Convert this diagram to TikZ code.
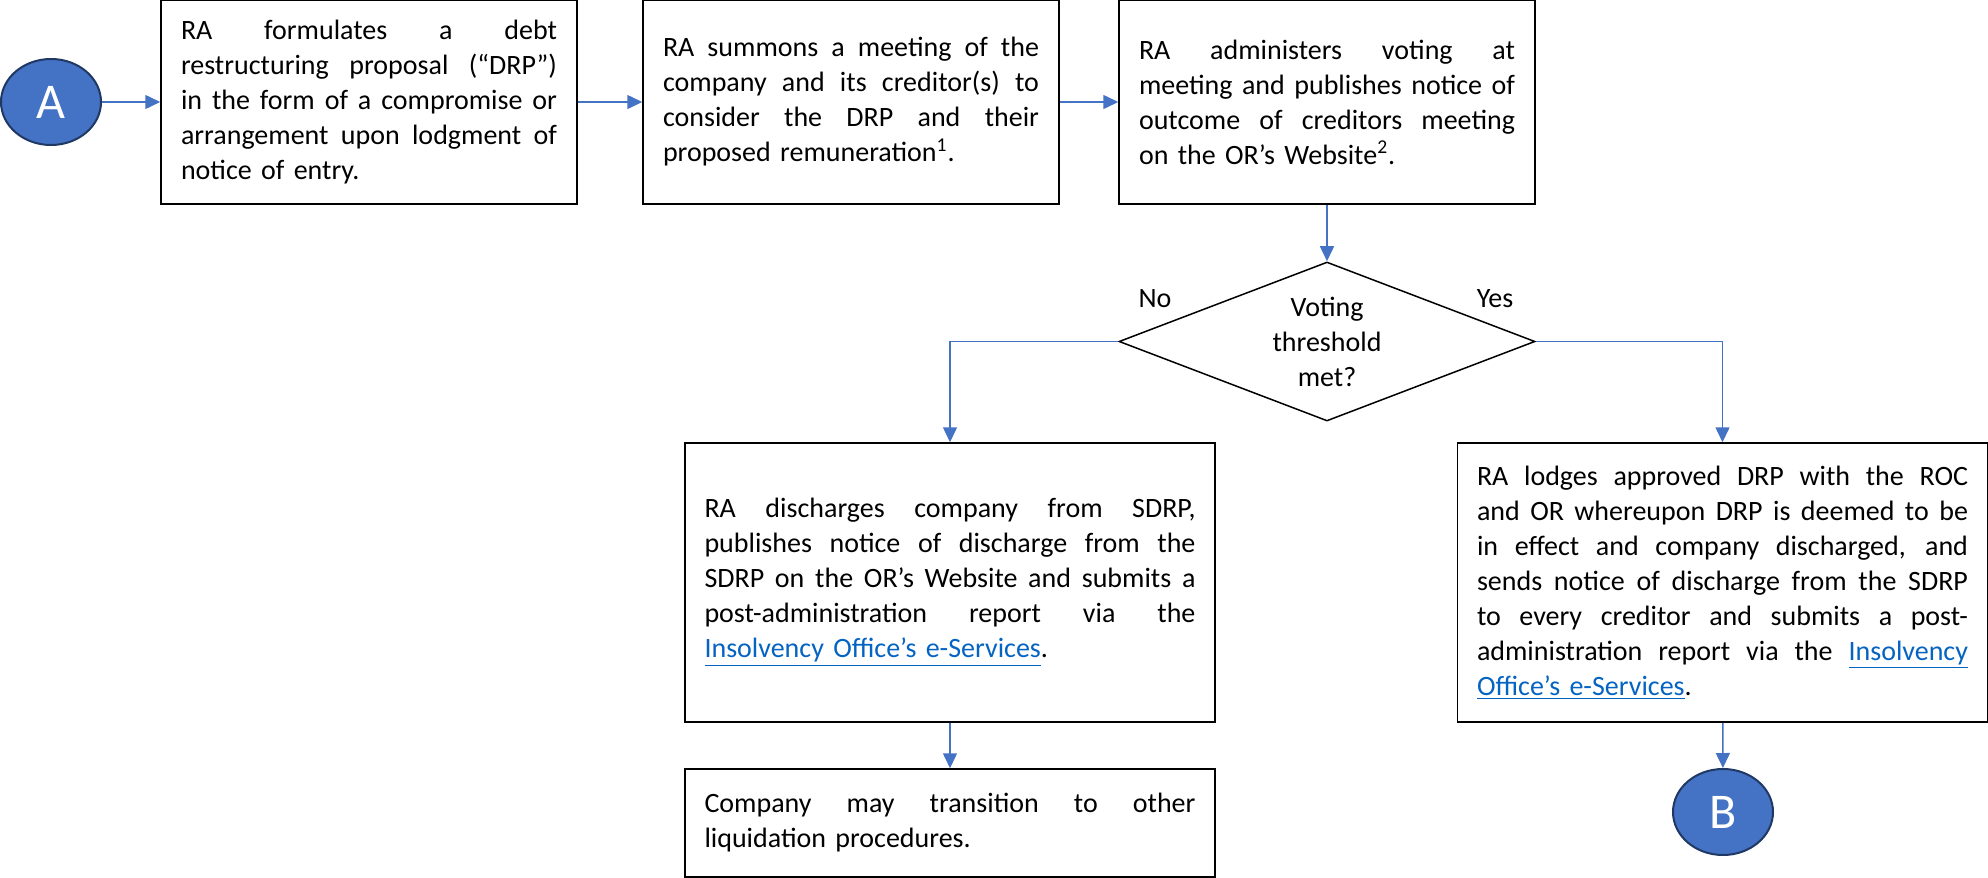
\documentclass[tikz,border=0pt]{standalone}
\usepackage{fontspec}
\setmainfont{Carlito}
\usetikzlibrary{arrows.meta,shapes.geometric}
\definecolor{arrblue}{HTML}{4472C4}
\definecolor{circborder}{HTML}{203864}
\definecolor{linkblue}{HTML}{0563C1}
\newcommand{\jline}[2]{\leavevmode\hbox to #1{\spaceskip=\fontdimen2\font plus 1fil minus 0.35\fontdimen2\font\relax #2}\\}
\newcommand{\lnk}[1]{\textcolor{linkblue}{\underline{#1}}}
\begin{document}
\begin{tikzpicture}[x=0.5pt,y=-0.5pt,
  font=\fontsize{14pt}{17.5pt}\selectfont,
  stepbox/.style={draw=black, line width=0.75pt, inner xsep=10pt, inner ysep=0pt, align=left},
  arr/.style={draw=arrblue, line width=0.75pt, -{Triangle[length=7.5pt,width=7pt]}},
  circ/.style={ellipse, fill=arrblue, draw=circborder, line width=1pt, minimum width=50pt, minimum height=43pt, inner sep=0pt, text=white, font=\fontsize{25pt}{30pt}\selectfont},
  lbl/.style={inner sep=0pt}
]
\useasboundingbox (0,0) rectangle (1988,878);

\node[circ] (A) at (51,102) {A};

\node[stepbox, text width=188pt, minimum height=102pt] (b1) at (369,102) {%
\jline{188pt}{RA formulates a debt}%
\jline{188pt}{restructuring proposal (“DRP”)}%
\jline{188pt}{in the form of a compromise or}%
\jline{188pt}{arrangement upon lodgment of}%
notice of entry.};

\node[stepbox, text width=188pt, minimum height=102pt] (b2) at (851,102) {%
\jline{188pt}{RA summons a meeting of the}%
\jline{188pt}{company and its creditor(s) to}%
\jline{188pt}{consider the DRP and their}%
proposed remuneration\textsuperscript{1}.};

\node[stepbox, text width=188pt, minimum height=102pt] (b3) at (1327,102) {%
\jline{188pt}{RA administers voting at}%
\jline{188pt}{meeting and publishes notice of}%
\jline{188pt}{outcome of creditors meeting}%
on the OR’s Website\textsuperscript{2}.};

\node[diamond, draw=black, line width=0.75pt, aspect=2.6, minimum width=208pt, minimum height=79.5pt, inner sep=0pt, align=center] (dia) at (1327,341.5) {Voting\\threshold\\met?};

\node[lbl] (no) at (1155,299) {No};
\node[lbl] (yes) at (1495,299) {Yes};

\node[stepbox, inner xsep=9.75pt, text width=245.5pt, minimum height=139.5pt] (b4) at (950,582.5) {%
\jline{245.5pt}{RA discharges company from SDRP,}%
\jline{245.5pt}{publishes notice of discharge from the}%
\jline{245.5pt}{SDRP on the OR’s Website and submits a}%
\jline{245.5pt}{post-administration report via the}%
\lnk{Insolvency Office’s e-Services}.};

\node[stepbox, inner xsep=9.75pt, text width=245.5pt, minimum height=54pt] (b5) at (950,823) {%
\jline{245.5pt}{Company may transition to other}%
liquidation procedures.};

\node[stepbox, inner xsep=9.75pt, text width=245.5pt, minimum height=139.5pt] (b6) at (1722.5,582.5) {%
\jline{245.5pt}{RA lodges approved DRP with the ROC}%
\jline{245.5pt}{and OR whereupon DRP is deemed to be}%
\jline{245.5pt}{in effect and company discharged, and}%
\jline{245.5pt}{sends notice of discharge from the SDRP}%
\jline{245.5pt}{to every creditor and submits a post-}%
\jline{245.5pt}{administration report via the \lnk{Insolvency}}%
\lnk{Office’s e-Services}.};

\node[circ] (B) at (1723,812) {B};

\draw[arr] (A) -- (b1);
\draw[arr] (b1) -- (b2);
\draw[arr] (b2) -- (b3);
\draw[arr] (b3) -- (dia);
\draw[arr] (dia.west) -| (b4.north);
\draw[arr] (dia.east) -| (b6.north);
\draw[arr] (b4) -- (b5);
\draw[arr] (b6) -- (B);
\end{tikzpicture}
\end{document}
